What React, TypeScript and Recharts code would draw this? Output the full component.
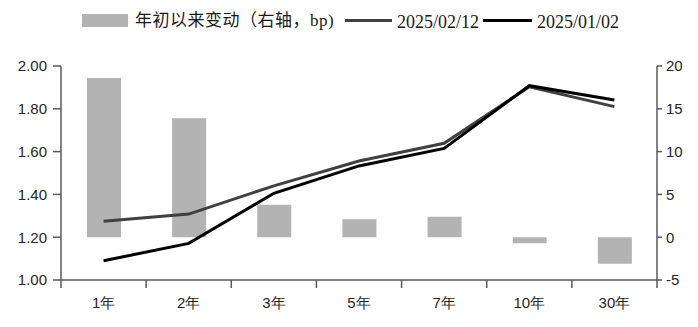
import React from 'react';
import {ComposedChart, Bar, Line, XAxis, YAxis, Legend} from 'recharts';

const tenors = ['1年', '2年', '3年', '5年', '7年', '10年', '30年'];
const ytdChange = [18.6, 13.9, 3.8, 2.1, 2.4, -0.7, -3.1];
const yieldFeb12 = [1.274, 1.308, 1.44, 1.556, 1.639, 1.903, 1.81];
const yieldJan02 = [1.09, 1.171, 1.405, 1.533, 1.615, 1.908, 1.841];
const leftTicks = [1.0, 1.2, 1.4, 1.6, 1.8, 2.0];
const rightTicks = [-5, 0, 5, 10, 15, 20];

const chartData = tenors.map((name, i) => ({
    name,
    change: ytdChange[i],
    feb: yieldFeb12[i],
    jan: yieldJan02[i],
}));

const W = 698;
const H = 327;
const LEFT_W = 61;
const RIGHT_W = 41;
const BAND = (W - LEFT_W - RIGHT_W) / tenors.length;
const AXIS = '#595959';
const TICK_FONT = {fontFamily: '"Liberation Sans", Arial, sans-serif', fontSize: 15, fill: '#262626'};
const LEGEND_FONT = '"Liberation Serif", "Noto Sans CJK SC", serif';

const XTick = (props: any) => {
    const {x, y, payload, index} = props;
    const last = index === tenors.length - 1;
    return (
        <g>
            <line x1={x - BAND / 2} x2={x - BAND / 2} y1={y} y2={y + 8} stroke={AXIS} strokeWidth={1.5} />
            {last && <line x1={x + BAND / 2} x2={x + BAND / 2} y1={y} y2={y + 8} stroke={AXIS} strokeWidth={1.5} />}
            <text x={x} y={y + 28} textAnchor="middle" {...TICK_FONT}>{payload.value}</text>
        </g>
    );
};

// legend drawn by hand so the items sit where the original has them
const LegendBox = () => (
    <div style={{position: 'relative', height: 36, fontFamily: LEGEND_FONT, color: '#1a1a1a', lineHeight: '20px'}}>
        <div style={{position: 'absolute', left: 82, top: 14, width: 46, height: 13, background: '#b3b3b3'}} />
        <span style={{position: 'absolute', left: 135, top: 11, whiteSpace: 'nowrap', fontSize: 17, letterSpacing: 0.5}}>
            年初以来变动（右轴，bp)
        </span>
        <div style={{position: 'absolute', left: 345, top: 19, width: 47, height: 3, background: '#404040'}} />
        <span style={{position: 'absolute', left: 397, top: 12, whiteSpace: 'nowrap', fontSize: 18}}>2025/02/12</span>
        <div style={{position: 'absolute', left: 483, top: 19, width: 49, height: 3, background: '#000'}} />
        <span style={{position: 'absolute', left: 537, top: 12, whiteSpace: 'nowrap', fontSize: 18}}>2025/01/02</span>
    </div>
);

export default function App() {
    return (
        <div style={{position: 'absolute', left: 0, top: 0, width: W, height: H, background: '#fff'}}>
            <ComposedChart width={W} height={H} data={chartData} margin={{top: 30, right: 0, bottom: 17, left: 0}}>
                <Legend verticalAlign="top" content={<LegendBox />} wrapperStyle={{top: 0, left: 0, width: W, height: 36}} />
                <XAxis dataKey="name" height={30} axisLine={{stroke: AXIS, strokeWidth: 1.5}} tickLine={false}
                    tickSize={0} tickMargin={0} tick={<XTick />} interval={0} />
                <YAxis yAxisId="left" width={LEFT_W} domain={[1, 2]} ticks={leftTicks} tickFormatter={(v: number) => v.toFixed(2)}
                    axisLine={{stroke: AXIS, strokeWidth: 1.5}} tickLine={{stroke: AXIS, strokeWidth: 1.5}} tickSize={8}
                    tickMargin={6} tick={TICK_FONT} allowDataOverflow />
                <YAxis yAxisId="right" orientation="right" width={RIGHT_W} domain={[-5, 20]} ticks={rightTicks}
                    axisLine={{stroke: AXIS, strokeWidth: 1.5}} tickLine={{stroke: AXIS, strokeWidth: 1.5}} tickSize={5}
                    tickMargin={4} tick={TICK_FONT} />
                <Bar yAxisId="right" dataKey="change" name="年初以来变动（右轴，bp)" fill="#b3b3b3" barSize={34} isAnimationActive={false} />
                <Line yAxisId="left" dataKey="feb" name="2025/02/12" stroke="#404040" strokeWidth={3} dot={false} isAnimationActive={false} />
                <Line yAxisId="left" dataKey="jan" name="2025/01/02" stroke="#000" strokeWidth={3} dot={false} isAnimationActive={false} />
            </ComposedChart>
        </div>
    );
}
